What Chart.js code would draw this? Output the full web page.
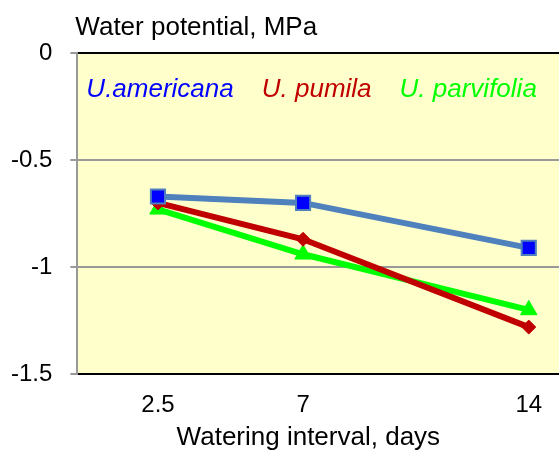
<!DOCTYPE html>
<html>
<head>
<meta charset="utf-8">
<script src="https://cdn.jsdelivr.net/npm/chart.js@4.4.0/dist/chart.umd.min.js"></script>
<style>
  html, body { margin: 0; padding: 0; background: #fff; overflow: hidden; }
  canvas { display: block; }
</style>
</head>
<body>
<canvas id="potential" width="561" height="450"></canvas>
<script>
// watering interval, days
var days = [2.5, 7, 14];
var yTicks = [0, -0.5, -1, -1.5];
var names = ["U.americana", "U. pumila", "U. parvifolia"];
var americana = [-0.67, -0.70, -0.91];
var pumila = [-0.70, -0.87, -1.28];
var parvifolia = [-0.73, -0.94, -1.20];

var FONT = "'Liberation Sans', Arial, sans-serif";

function toPoints(vals) {
    var pts = [];
    for (var i = 0; i < days.length; i++) {
        pts.push({x: days[i], y: vals[i]});
    }
    return pts;
}

var plotBg = {
    id: 'plotBg',
    beforeDraw: function(chart) {
        var a = chart.chartArea, ctx = chart.ctx;
        ctx.save();
        ctx.fillStyle = '#FFFFCC';
        ctx.fillRect(a.left, a.top, a.right - a.left, a.bottom - a.top);
        ctx.restore();
    },
    afterDraw: function(chart) {
        var a = chart.chartArea, ctx = chart.ctx;
        ctx.save();
        ctx.fillStyle = '#000';
        ctx.font = '26px ' + FONT;
        ctx.textBaseline = 'alphabetic';
        ctx.fillText('Water potential, MPa', a.left - 2, a.top - 18);
        ctx.textAlign = 'center';
        ctx.fillText('Watering interval, days', a.left + 231, a.bottom + 71);
        // legend as coloured italic text inside the plot
        ctx.textAlign = 'left';
        ctx.font = 'italic 26px ' + FONT;
        var x = a.left + 9;
        chart.data.datasets.forEach(function(ds) {
            ctx.fillStyle = ds.textColor;
            ctx.fillText(ds.label, x, a.top + 44);
            x += ctx.measureText(ds.label).width + 28;
        });
        ctx.restore();
    }
};

var ctx = document.getElementById('potential');
var chart = new Chart(ctx, {
    type: 'line',
    data: {
        datasets: [{
            label: names[0],
            data: toPoints(americana),
            borderColor: '#4F81BD',
            textColor: '#0000FF',
            borderWidth: 6,
            pointStyle: 'rect',
            pointRadius: 10,
            pointBackgroundColor: '#0000FF',
            pointBorderColor: '#4F81BD',
            pointBorderWidth: 2
        }, {
            label: names[1],
            data: toPoints(pumila),
            borderColor: '#C00000',
            textColor: '#C00000',
            borderWidth: 6,
            pointStyle: 'rectRot',
            pointRadius: 7,
            pointBackgroundColor: '#C00000',
            pointBorderColor: '#C00000',
            pointBorderWidth: 1
        }, {
            label: names[2],
            data: toPoints(parvifolia),
            borderColor: '#00FF00',
            textColor: '#00FF00',
            borderWidth: 6,
            pointStyle: 'triangle',
            pointRadius: 9.5,
            pointBackgroundColor: '#00FF00',
            pointBorderColor: '#00FF00',
            pointBorderWidth: 1
        }]
    },
    options: {
        responsive: false,
        animation: false,
        layout: { autoPadding: false, padding: { left: -7, top: 53, right: 0, bottom: 13 } },
        plugins: {
            legend: { display: false },
            tooltip: { enabled: false }
        },
        elements: { line: { tension: 0 } },
        scales: {
            x: {
                type: 'linear',
                min: 0,
                max: 15,
                afterBuildTicks: function(axis) {
                    axis.ticks = days.map(function(d) { return {value: d}; });
                },
                grid: { display: false, drawTicks: false },
                border: { display: true, color: '#000', width: 2 },
                ticks: {
                    color: '#000',
                    padding: 17,
                    font: { family: FONT, size: 24 }
                }
            },
            y: {
                min: -1.5,
                max: 0,
                afterBuildTicks: function(axis) {
                    axis.ticks = yTicks.map(function(v) { return {value: v}; });
                },
                grid: {
                    color: function(c) {
                        var v = c.tick ? c.tick.value : null;
                        return (v === 0 || v === -1.5) ? '#000' : '#999999';
                    },
                    lineWidth: 2,
                    tickLength: 7,
                    tickColor: '#999999'
                },
                border: { display: true, color: '#999999', width: 2 },
                ticks: {
                    color: '#000',
                    padding: 18,
                    font: { family: FONT, size: 24 },
                    callback: function(v) { return String(v); }
                }
            }
        }
    },
    plugins: [plotBg]
});
</script>
</body>
</html>
